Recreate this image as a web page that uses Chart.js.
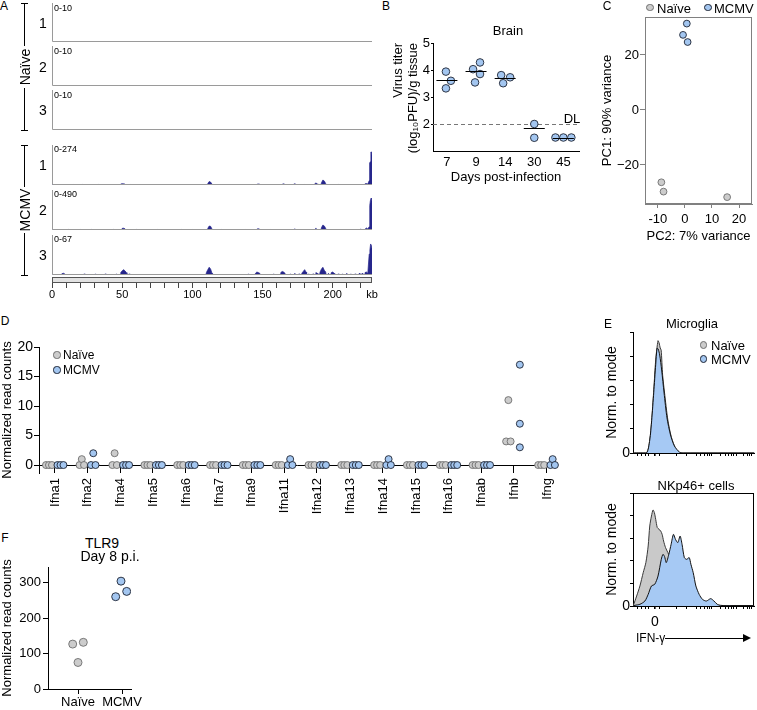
<!DOCTYPE html>
<html><head><meta charset="utf-8">
<script src="https://cdn.jsdelivr.net/npm/chart.js@4.4.0/dist/chart.umd.min.js"></script>
<style>
html,body{margin:0;padding:0;background:#fff;}
#fig{position:relative;width:757px;height:710px;overflow:hidden;font-family:'Liberation Sans',Arial,Helvetica,sans-serif;color:#000;}
#fig canvas{position:absolute;}
.t{position:absolute;white-space:nowrap;line-height:1;}
.ln{position:absolute;background:#000;}
.dot{position:absolute;border-radius:50%;box-sizing:border-box;}
</style></head><body><div id="fig"></div>
<script>
// ---------------- DATA ----------------
// Panel A: MCMV genome coverage (kb, read coverage)
const GENOME_KB = 228;
const naiveTrackMax = [10, 10, 10];
const mcmvTrackMax = [274, 490, 67];
const rulerTickKb = [0,10,20,30,40,50,60,70,80,90,100,110,120,130,140,150,160,170,180,190,200,210,220];
const rulerLabelKb = [0, 50, 100, 150, 200];
const mcmv1Peaks = [[1,3],[8,5],[15,3],[22,3],[26,2],[33,3],[41,4],[49,7],[50,9],[51,8],[52,6],[56,3],[63,2],[70,2],[78,2],[86,2],[93,3],[101,2],[111,10],[112,24],[113,20],[114,6],[122,2],[130,2],[139,2],[146,5],[147,7],[148,6],[156,2],[164,5],[165,8],[166,4],[172,4],[173,9],[174,3],[180,3],[187,6],[188,14],[189,8],[192,16],[193,34],[194,28],[195,10],[197,5],[200,6],[204,3],[208,5],[212,3],[215,5],[219,4],[221,6],[223,8],[224,10],[225,6],[226,30],[226.3,150],[226.8,160],[227.2,226],[227.8,226],[228,200]];
const mcmv2Peaks = [[5,8],[12,6],[20,6],[28,6],[35,8],[44,6],[50,20],[51,22],[52,15],[60,6],[68,5],[75,5],[83,5],[92,6],[100,5],[111,20],[112,49],[113,45],[114,12],[121,5],[130,5],[138,5],[146,12],[147,16],[148,10],[156,5],[165,12],[173,16],[180,8],[188,25],[192,30],[193,61],[194,50],[195,20],[197,10],[200,12],[205,8],[210,12],[214,8],[218,10],[220,14],[223,10],[224,25],[225,12],[226,40],[226.4,300],[226.8,355],[227.3,390],[227.8,380],[228,350]];
const mcmv3Peaks = [[2,1],[7,2],[8,3],[9,2],[16,1.5],[19,1.5],[23,2],[27,1.5],[31,2],[35,1.5],[38,2],[42,1.5],[46,2],[49,4],[50,7],[51,9],[52,7],[53,4],[55,2],[58,1.5],[62,1.5],[67,1],[74,1.5],[80,1],[88,1.5],[95,1],[104,1.5],[110,4],[111,9],[112,13],[113,10],[114,3],[120,1.5],[126,1],[133,1.5],[140,2],[145,3],[146,5],[147,4],[148,3],[153,1.5],[158,2],[163,4],[164,6],[165,5],[166,3],[170,2],[173,3],[176,2],[178,3],[179,6],[180,9],[181,5],[183,2],[186,2],[188,4],[189,3],[191,5],[192,10],[193,13],[194,8],[195,5],[197,3],[199,4],[200,5],[201,3],[204,2],[207,2],[210,3],[213,2],[216,2],[219,3],[221,3],[223,4],[224,5],[225,3],[226,35],[226.5,42],[227,52],[227.5,50],[228,45]];

// Panel B: brain virus titer
const titerDays = ['7', '9', '14', '30', '45'];
const titerVals = [[3.94,3.6,3.32],[4.28,4.03,3.85,3.54],[3.81,3.73,3.51],[2.0,1.49],[1.5,1.5,1.5]];
const titerLine = [3.62, 3.96, 3.72, 1.84, 1.5];
const detectionLimit = 2;
const titerTicks = [2, 3, 4, 5];

// Panel C: PCA
const pcaNaive = [[-8.7,-26.3],[-7.9,-29.7],[15.6,-31.7]];
const pcaMcmv = [[0.7,31.4],[-0.7,27.3],[1.0,24.7]];
const pcaXTicks = [-10, 0, 10, 20];
const pcaYTicks = [-20, 0, 20];

// Panel D: interferon read counts
const ifnGenes = ['Ifna1','Ifna2','Ifna4','Ifna5','Ifna6','Ifna7','Ifna9','Ifna11','Ifna12','Ifna13','Ifna14','Ifna15','Ifna16','Ifnab','Ifnb','Ifng'];
const ifnNaive = [[0,0,0],[0,1,0],[0,2,0],[0,0,0],[0,0,0],[0,0,0],[0,0,0],[0,0,0],[0,0,0],[0,0,0],[0,0,0],[0,0,0],[0,0,0],[0,0,0],[4,11,4],[0,0,0]];
const ifnMcmv = [[0,0,0],[0,2,0],[0,0,0],[0,0,0],[0,0,0],[0,0,0],[0,0,0],[0,1,0],[0,0,0],[0,0,0],[0,1,0],[0,0,0],[0,0,0],[0,0,0],[3,7,17],[0,1,0]];
const ifnYTicks = [0, 5, 10, 15, 20];

// Panel E: IFN-gamma flow histograms (channel 0-100, % of mode)
const microNaive = [[0,0],[11.1,0],[13.8,10.7],[15.4,27],[17.1,52],[18.7,77],[20.6,92.8],[21.5,91],[22.4,86.8],[23.2,85],[24.4,64.5],[26,49.6],[28.7,27.3],[31.5,13.5],[35,3.9],[39,0],[100,0]];
const microMcmv = [[0,0],[11,0],[13.8,10.7],[15.4,27],[17.1,50],[18.7,73],[19.8,86.5],[20.7,86],[22,81],[23.6,68.6],[25.6,49.6],[28,29],[30.9,14.9],[34.1,5.8],[38.2,0.8],[41.5,0],[100,0]];
const nkNaive = [[0,0],[0.3,0.6],[3,8.8],[5.7,17.7],[8.4,29.5],[10.6,38.4],[12.5,53.1],[13.8,70.8],[15.2,79.6],[16.5,85],[17.6,82.6],[18.7,76.7],[20,69.4],[21.4,67.9],[22.8,66.4],[24,63.4],[25.2,57.5],[26.8,51.7],[28.7,47.3],[31.4,40],[35.5,25],[39.8,12],[43.9,5],[49.3,1],[54.5,0],[100,0]];
const nkMcmv = [[0,0],[1.6,0.6],[5.7,1.5],[9.8,4.4],[12.5,10.3],[15.2,17.7],[17.9,19.2],[20.6,26.5],[23.3,41.3],[24.7,45.7],[26,43.7],[27.4,38.4],[29.5,45.7],[31.4,54.6],[33.3,63.4],[35,59],[36.9,56.1],[38.8,61.9],[40.4,54.6],[42.3,42.8],[44.2,41.3],[46.3,42.8],[47.7,36.9],[49.6,29.5],[51.8,17.7],[54.5,10.3],[57.2,5.9],[60.4,4.4],[64,6.5],[66.7,4.4],[69.4,1.5],[72.1,0.6],[81.6,0],[100,0]];
const flowTicks = [4,7,10,13,18,22,36,44,52,56,59,61,63,65,72,76,79,81,83,85,91,94,96,98];
const flowZero = 18;
const modeTicks = [0,10,20,30,40,50,60,70,80,90,100];

// Panel F: TLR9 read counts
const tlrGroups = ['Naïve', 'MCMV'];
const tlrNaive = [127, 132, 75];
const tlrMcmv = [305, 261, 276];
const tlrTicks = [0, 100, 200, 300];

// ---------------- STYLE / LAYOUT ----------------
const FONT = "'Liberation Sans', Arial, Helvetica, sans-serif";
const NAVY = '#26268c';
const GRAY_F = '#cccccc', GRAY_S = '#6e6e6e';
const BLUE_F = '#a3c6f0', BLUE_S = '#1d2433';
Chart.defaults.font.family = FONT;
Chart.defaults.font.size = 13;
Chart.defaults.color = '#000';
Chart.defaults.animation = false;
Chart.defaults.responsive = false;
Chart.defaults.devicePixelRatio = 1;
Chart.defaults.events = [];
Chart.defaults.plugins.legend.display = false;
Chart.defaults.plugins.tooltip.enabled = false;

const fig = document.getElementById('fig');

function makeChart(area, o, config) {
  const wy = o.wy || 0, hx = o.hx || 0, pt = o.pt || 0, pr = o.pr || 0, pl = o.pl || 0;
  const L = area.l - wy - pl, T = area.t - pt;
  const W = area.r - area.l + wy + pr + pl, H = area.b - area.t + pt + hx;
  const c = document.createElement('canvas');
  c.width = W; c.height = H;
  c.style.left = L + 'px'; c.style.top = T + 'px';
  c.style.width = W + 'px'; c.style.height = H + 'px';
  fig.appendChild(c);
  config.options = config.options || {};
  config.options.layout = {padding: {left: pl, top: pt, right: pr, bottom: 0}};
  config.options.maintainAspectRatio = false;
  const sc = config.options.scales || {};
  if (sc.y && sc.y.display !== false) sc.y.afterFit = s => { s.width = wy; };
  if (sc.x && sc.x.display !== false) sc.x.afterFit = s => { s.height = hx; };
  return new Chart(c, config);
}
function fixedTicks(list) { return s => { s.ticks = list.map(v => ({value: v})); }; }

function txt(s, x, y, size, o = {}) {
  const d = document.createElement('div');
  d.className = 't'; d.textContent = s;
  d.style.left = x + 'px'; d.style.top = y + 'px'; d.style.fontSize = size + 'px';
  const ax = o.align === 'left' ? '0' : (o.align === 'right' ? '-100%' : '-50%');
  d.style.transform = `translate(${ax},-50%)` + (o.rot ? ` rotate(${o.rot}deg)` : '');
  fig.appendChild(d);
}
function rect(x, y, w, h, color) {
  const d = document.createElement('div');
  d.className = 'ln';
  Object.assign(d.style, {left: x + 'px', top: y + 'px', width: w + 'px', height: h + 'px', background: color || '#000'});
  fig.appendChild(d);
}
function dot(x, y, r, fill, stroke) {
  const d = document.createElement('div');
  d.className = 'dot';
  Object.assign(d.style, {left: (x - r) + 'px', top: (y - r) + 'px', width: 2 * r + 'px', height: 2 * r + 'px', background: fill, border: '1px solid ' + stroke});
  fig.appendChild(d);
}

// ---------------- PANEL A ----------------
function coverage(peaks) {
  const out = [{x: 0, y: 0}];
  peaks.forEach(([x, y], i) => {
    const prev = peaks[i - 1], next = peaks[i + 1];
    if (!prev || x - prev[0] > 1.2) out.push({x: x - 0.4, y: 0});
    out.push({x, y});
    if (!next || next[0] - x > 1.2) { if (x + 0.4 <= GENOME_KB) out.push({x: x + 0.4, y: 0}); }
  });
  return out;
}
const trackFrame = {
  id: 'trackFrame',
  afterDatasetsDraw(ch) {
    const {ctx, chartArea: a} = ch;
    ctx.save(); ctx.strokeStyle = '#9a9a9a'; ctx.lineWidth = 1;
    ctx.beginPath(); ctx.moveTo(a.left + 0.5, a.top); ctx.lineTo(a.left + 0.5, a.bottom - 0.5); ctx.lineTo(a.right, a.bottom - 0.5); ctx.stroke();
    ctx.restore();
  }
};
function trackChart(top, bottom, maxV, peaks) {
  makeChart({l: 52, t: top, r: 372, b: bottom}, {}, {
    type: 'line',
    data: {datasets: peaks ? [{data: coverage(peaks), borderColor: NAVY, backgroundColor: NAVY, borderWidth: 0.7, fill: 'origin', pointRadius: 0, tension: 0}] : []},
    options: {scales: {x: {type: 'linear', display: false, min: 0, max: GENOME_KB}, y: {type: 'linear', display: false, min: 0, max: maxV}}},
    plugins: [trackFrame]
  });
}
const naiveTops = [[3, 42], [46, 86], [90, 130]];
const mcmvTops = [[145, 185], [190, 230], [235, 275]];
naiveTops.forEach(([t, b], i) => trackChart(t, b, naiveTrackMax[i], null));
const mcmvPeaks = [mcmv1Peaks, mcmv2Peaks, mcmv3Peaks];
mcmvTops.forEach(([t, b], i) => trackChart(t, b, mcmvTrackMax[i], mcmvPeaks[i]));
naiveTops.forEach(([t], i) => txt('0-' + naiveTrackMax[i], 54, t + 4.5, 9, {align: 'left'}));
mcmvTops.forEach(([t], i) => txt('0-' + mcmvTrackMax[i], 54, t + 4, 9, {align: 'left'}));
['1', '2', '3'].forEach((s, i) => { txt(s, 43, [23, 66.5, 110][i], 14); txt(s, 43, [165, 210, 255][i], 14); });

const rulerBar = {
  id: 'rulerBar',
  beforeDatasetsDraw(ch) {
    const {ctx, chartArea: a} = ch;
    ctx.save(); ctx.fillStyle = '#e2e2e2'; ctx.strokeStyle = '#555'; ctx.lineWidth = 1;
    ctx.fillRect(a.left, a.top, a.right - a.left, a.bottom - a.top);
    ctx.strokeRect(a.left + 0.5, a.top + 0.5, a.right - a.left - 1, a.bottom - a.top - 1);
    ctx.restore();
  }
};
makeChart({l: 52, t: 277, r: 372, b: 283}, {hx: 20, pr: 10, pl: 6}, {
  type: 'line', data: {datasets: []},
  options: {scales: {
    x: {type: 'linear', min: 0, max: GENOME_KB, afterBuildTicks: fixedTicks(rulerTickKb.concat([GENOME_KB])),
      border: {display: false},
      grid: {drawOnChartArea: false, drawTicks: true, tickLength: 5, color: c => (c.tick && c.tick.value === GENOME_KB) ? 'rgba(0,0,0,0)' : '#444'},
      ticks: {autoSkip: false, maxRotation: 0, font: {size: 11}, padding: 0,
        callback: v => v === GENOME_KB ? 'kb' : (rulerLabelKb.includes(v) ? String(v) : '')}},
    y: {display: false, min: 0, max: 1}
  }},
  plugins: [rulerBar]
});

// ---------------- PANEL B ----------------
const jitterB = [[-1,4,-1],[4,-3,4,-1],[-4,5,-2],[0,0],[-8,0,8]];
const B_SP = 29.3;
const bPoints = [];
titerVals.forEach((vals, i) => vals.forEach((v, j) => bPoints.push({x: i + jitterB[i][j] / B_SP, y: v})));
const bPlugin = {
  id: 'bExtras',
  beforeDatasetsDraw(ch) {
    const {ctx, chartArea: a, scales: {y}} = ch;
    const py = Math.round(y.getPixelForValue(detectionLimit)) + 0.5;
    ctx.save(); ctx.strokeStyle = '#777'; ctx.lineWidth = 1; ctx.setLineDash([4, 3]);
    ctx.beginPath(); ctx.moveTo(a.left, py); ctx.lineTo(a.right, py); ctx.stroke(); ctx.restore();
  },
  afterDatasetsDraw(ch) {
    const {ctx, scales: {x, y}} = ch;
    ctx.save(); ctx.strokeStyle = '#000'; ctx.lineWidth = 1;
    titerLine.forEach((v, i) => {
      const px = x.getPixelForValue(i), py = Math.round(y.getPixelForValue(v)) + 0.5;
      ctx.beginPath(); ctx.moveTo(px - 10.5, py); ctx.lineTo(px + 10.5, py); ctx.stroke();
    });
    ctx.restore();
  }
};
makeChart({l: 433, t: 43, r: 580, b: 151}, {wy: 42, hx: 40, pt: 10, pr: 4}, {
  type: 'scatter',
  data: {datasets: [{data: bPoints, backgroundColor: BLUE_F, borderColor: BLUE_S, borderWidth: 0.9, pointRadius: 3.8}]},
  options: {scales: {
    x: {type: 'linear', min: (433 - 447) / B_SP, max: (580 - 447) / B_SP, afterBuildTicks: fixedTicks([0, 1, 2, 3, 4]),
      border: {display: true, color: '#000'}, grid: {display: true, drawOnChartArea: false, drawTicks: false},
      ticks: {padding: 4, callback: v => titerDays[v]},
      title: {display: true, text: 'Days post-infection', font: {size: 13}, padding: {top: 0, bottom: 6}}},
    y: {type: 'linear', min: 1, max: 5, afterBuildTicks: fixedTicks(titerTicks),
      border: {display: true, color: '#000'}, grid: {display: true, drawOnChartArea: false, tickLength: 2, color: '#000'},
      ticks: {padding: 1},
      title: {display: true, text: ['Virus titer', '(log₁₀PFU)/g tissue'], align: 'end', font: {size: 13, lineHeight: 1.15}, padding: 0}}
  }},
  plugins: [bPlugin]
});

// ---------------- PANEL C ----------------
const boxPlugin = color => ({
  id: 'box',
  beforeDatasetsDraw(ch) {
    const {ctx, chartArea: a} = ch;
    ctx.save(); ctx.strokeStyle = color; ctx.lineWidth = 1;
    ctx.strokeRect(Math.round(a.left) + 0.5, Math.round(a.top) + 0.5, Math.round(a.right - a.left) - 1, Math.round(a.bottom - a.top) - 1);
    ctx.restore();
  }
});
makeChart({l: 645, t: 17, r: 755, b: 204}, {wy: 45, hx: 43, pt: 10, pr: 2}, {
  type: 'scatter',
  data: {datasets: [
    {data: pcaMcmv.map(([x, y]) => ({x, y})), backgroundColor: BLUE_F, borderColor: BLUE_S, borderWidth: 0.9, pointRadius: 3.4},
    {data: pcaNaive.map(([x, y]) => ({x, y})), backgroundColor: GRAY_F, borderColor: GRAY_S, borderWidth: 0.9, pointRadius: 3.4}
  ]},
  options: {scales: {
    x: {type: 'linear', min: (645 - 686) / 2.78, max: (755 - 686) / 2.78, afterBuildTicks: fixedTicks(pcaXTicks),
      border: {display: true, color: '#808080'}, grid: {display: true, drawOnChartArea: false, tickLength: 4, color: '#808080'},
      ticks: {padding: 4},
      title: {display: true, text: 'PC2: 7% variance', font: {size: 13}, padding: {top: 0, bottom: 3}}},
    y: {type: 'linear', min: -34.2, max: 33.8, afterBuildTicks: fixedTicks(pcaYTicks),
      border: {display: true, color: '#808080'}, grid: {display: true, drawOnChartArea: false, tickLength: 5, color: '#808080'},
      ticks: {padding: 1, callback: v => v < 0 ? '−' + Math.abs(v) : String(v)},
      title: {display: true, text: 'PC1: 90% variance', font: {size: 13}, padding: 0}}
  }},
  plugins: [boxPlugin('#808080')]
});

// ---------------- PANEL D ----------------
const D_SP = 32.87, D_PXY = 5.9;
function spread(vals, center) {
  const off = new Array(vals.length), groups = [];
  vals.forEach((v, i) => {
    const g = groups.find(g => Math.abs(g.v - v) * D_PXY < 5);
    if (g) g.idx.push(i); else groups.push({v, idx: [i]});
  });
  groups.forEach(g => {
    const k = g.idx.length, s = k === 2 ? 4.5 : 3;
    g.idx.forEach((i, j) => { off[i] = center + (j - (k - 1) / 2) * s; });
  });
  return off;
}
function dPoints(table, center) {
  const pts = [];
  table.forEach((vals, i) => {
    const off = spread(vals, center);
    const order = vals.map((v, j) => j).sort((a, b) => off[a] - off[b]);
    order.forEach(j => pts.push({x: i + off[j] / D_SP, y: vals[j]}));
  });
  return pts;
}
const dPlugin = {
  id: 'dZero',
  beforeDatasetsDraw(ch) {
    const {ctx, chartArea: a, scales: {x, y}} = ch;
    const y0 = Math.round(y.getPixelForValue(0)) + 0.5;
    ctx.save(); ctx.strokeStyle = '#000'; ctx.lineWidth = 1;
    ctx.beginPath(); ctx.moveTo(a.left, y0); ctx.lineTo(x.getPixelForValue(ifnGenes.length - 1) + 10, y0); ctx.stroke();
    ifnGenes.forEach((g, i) => {
      const px = Math.round(x.getPixelForValue(i)) + 0.5;
      ctx.beginPath(); ctx.moveTo(px, y0); ctx.lineTo(px, a.bottom); ctx.stroke();
    });
    ctx.restore();
  },
  afterDraw(ch) {
    const {ctx, chartArea: a, scales: {x}} = ch;
    ctx.save(); ctx.fillStyle = '#000'; ctx.font = '13px ' + FONT;
    ctx.textAlign = 'right'; ctx.textBaseline = 'middle';
    ifnGenes.forEach((g, i) => {
      ctx.save();
      ctx.translate(x.getPixelForValue(i) + 1, a.bottom + 5);
      ctx.rotate(-Math.PI / 2);
      ctx.fillText(g, 0, 0);
      ctx.restore();
    });
    ctx.restore();
  }
};
makeChart({l: 39, t: 347, r: 563, b: 473}, {wy: 39, hx: 45, pt: 10, pr: 4}, {
  type: 'scatter',
  data: {datasets: [
    {data: dPoints(ifnMcmv, 6.5), backgroundColor: BLUE_F, borderColor: BLUE_S, borderWidth: 0.9, pointRadius: 3.5},
    {data: dPoints(ifnNaive, -5), backgroundColor: GRAY_F, borderColor: GRAY_S, borderWidth: 0.9, pointRadius: 3.5}
  ]},
  options: {scales: {
    x: {type: 'linear', min: (39 - 54) / D_SP, max: (563 - 54) / D_SP, afterBuildTicks: fixedTicks(ifnGenes.map((g, i) => i)),
      border: {display: false}, grid: {display: false, drawTicks: false},
      ticks: {display: false}},
    y: {type: 'linear', min: -1.35, max: 20, afterBuildTicks: fixedTicks(ifnYTicks),
      border: {display: true, color: '#000'}, grid: {display: true, drawOnChartArea: false, tickLength: 5, color: '#000'},
      ticks: {padding: 1, font: {size: 14}},
      title: {display: true, text: 'Normalized read counts', font: {size: 13}, padding: 0}}
  }},
  plugins: [dPlugin]
});

// ---------------- PANEL E ----------------
function flowChart(area, hx, nData, mData, showZero, boxed) {
  return makeChart(area, {wy: 29, hx, pt: 10, pr: 1}, {
    type: 'line',
    data: {datasets: [
      {data: mData.map(([x, y]) => ({x, y})), borderColor: '#111', borderWidth: 1, backgroundColor: '#a6c9f4', fill: 'origin', pointRadius: 0, tension: 0.25},
      {data: nData.map(([x, y]) => ({x, y})), borderColor: '#3a3a3a', borderWidth: 1, backgroundColor: '#c9c9c9', fill: 'origin', pointRadius: 0, tension: 0.25}
    ]},
    options: {scales: {
      x: {type: 'linear', min: 0, max: 100, afterBuildTicks: fixedTicks(flowTicks),
        border: {display: true, color: '#000'}, grid: {display: true, drawOnChartArea: false, tickLength: 3, color: '#000', lineWidth: c => (c.tick && c.tick.value === flowZero) ? 1.6 : 1},
        ticks: {autoSkip: false, maxRotation: 0, padding: 5, font: {size: 14}, callback: v => (showZero && v === flowZero) ? '0' : ''}},
      y: {type: 'linear', min: 0, max: 100, afterBuildTicks: fixedTicks(modeTicks),
        border: {display: true, color: '#000'}, grid: {display: true, drawOnChartArea: false, tickLength: 3, color: '#000'},
        ticks: {padding: 0, font: {size: 14}, callback: v => v === 0 ? '0' : ''},
        title: {display: true, text: 'Norm. to mode', font: {size: 14}, padding: 0}}
    }},
    plugins: boxed ? [boxPlugin('#000')] : []
  });
}
flowChart({l: 633, t: 332, r: 756, b: 453}, 12, microNaive, microMcmv, false, false);
flowChart({l: 633, t: 493, r: 756, b: 606}, 30, nkNaive, nkMcmv, true, true);

// ---------------- PANEL F ----------------
const jitterF = [[-5.3, 5.3, 0], [-1, -6.3, 4.7]];
const F_SP = 44;
makeChart({l: 48, t: 567, r: 131, b: 689}, {wy: 48, hx: 21, pt: 10, pr: 14}, {
  type: 'scatter',
  data: {datasets: [
    {data: tlrMcmv.map((v, j) => ({x: 1 + jitterF[1][j] / F_SP, y: v})), backgroundColor: BLUE_F, borderColor: BLUE_S, borderWidth: 0.9, pointRadius: 4},
    {data: tlrNaive.map((v, j) => ({x: 0 + jitterF[0][j] / F_SP, y: v})), backgroundColor: GRAY_F, borderColor: GRAY_S, borderWidth: 0.9, pointRadius: 4}
  ]},
  options: {scales: {
    x: {type: 'linear', min: (48 - 78) / F_SP, max: (131 - 78) / F_SP, afterBuildTicks: fixedTicks([0, 1]),
      border: {display: true, color: '#000'}, grid: {display: true, drawOnChartArea: false, tickLength: 5, color: '#000'},
      ticks: {padding: 1, maxRotation: 0, callback: v => tlrGroups[v]}},
    y: {type: 'linear', min: 0, max: 345, afterBuildTicks: fixedTicks(tlrTicks),
      border: {display: true, color: '#000'}, grid: {display: true, drawOnChartArea: false, tickLength: 5, color: '#000'},
      ticks: {padding: 2},
      title: {display: true, text: 'Normalized read counts', font: {size: 13}, padding: 0}}
  }}
});

// ---------------- TEXT / ANNOTATIONS ----------------
// panel letters
txt('A', 4, 6, 12); txt('B', 386, 6, 12); txt('C', 607, 6, 12);
txt('D', 5, 321, 12); txt('E', 608, 324, 12); txt('F', 5, 538, 12);
// A brackets
txt('Naïve', 24.5, 66.5, 14, {rot: -90});
txt('MCMV', 24.5, 210, 14, {rot: -90});
rect(24, 3, 1, 43); rect(24, 88, 1, 43); rect(21, 3, 7, 1); rect(21, 130, 7, 1);
rect(24, 145, 1, 42); rect(24, 233, 1, 43); rect(21, 145, 7, 1); rect(21, 275, 7, 1);
// B
txt('Brain', 508, 30, 13);
txt('DL', 572, 118, 13);
// C legend
dot(650, 7.5, 3.6, GRAY_F, GRAY_S); txt('Naïve', 657, 7.5, 13, {align: 'left'});
dot(708, 7.5, 3.6, BLUE_F, BLUE_S); txt('MCMV', 714, 7.5, 13, {align: 'left'});
// D legend
dot(57, 355, 3.6, GRAY_F, GRAY_S); txt('Naïve', 63, 355, 12, {align: 'left'});
dot(57, 370, 3.6, BLUE_F, BLUE_S); txt('MCMV', 63, 370, 12, {align: 'left'});
// E
txt('Microglia', 692, 323, 13);
dot(703.5, 345, 3.8, GRAY_F, GRAY_S); txt('Naïve', 711, 345, 13, {align: 'left'});
dot(703.5, 359, 3.8, BLUE_F, BLUE_S); txt('MCMV', 711, 359, 13, {align: 'left'});
txt('NKp46+ cells', 696, 485, 13);
txt('IFN-γ', 636, 638, 12, {align: 'left'});
rect(665, 638, 80, 1);
(function () {
  const d = document.createElement('div');
  Object.assign(d.style, {position: 'absolute', left: '743px', top: '634px', width: 0, height: 0,
    borderTop: '4.5px solid transparent', borderBottom: '4.5px solid transparent', borderLeft: '8px solid #000'});
  fig.appendChild(d);
})();
// F
txt('TLR9', 102, 543, 14);
txt('Day 8 p.i.', 110, 556, 14);
</script>
</body></html>
